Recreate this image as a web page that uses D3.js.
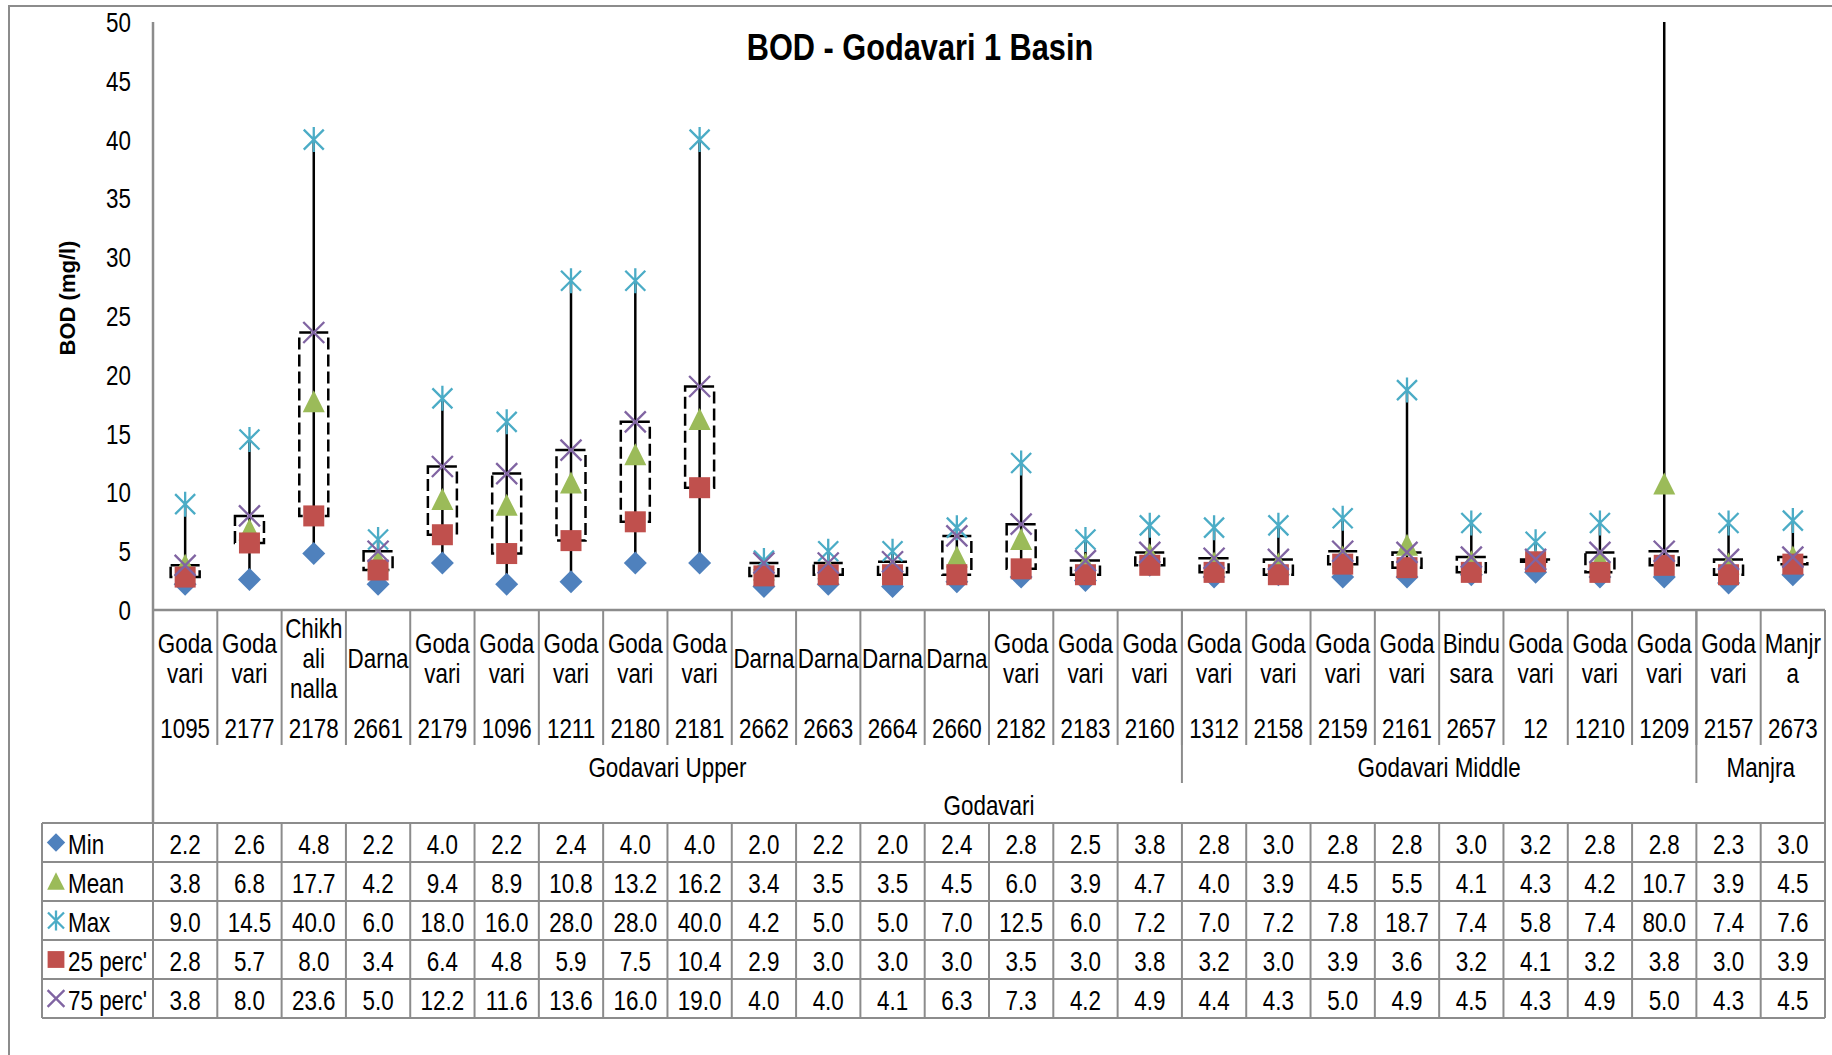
<!DOCTYPE html>
<html>
<head>
<meta charset="utf-8">
<script src="https://cdn.jsdelivr.net/npm/d3@7"></script>
<style>
  html, body { margin: 0; padding: 0; background: #fff; }
  svg { display: block; }
  text { font-family: "Liberation Sans", Arial, sans-serif; fill: #000; }
</style>
</head>
<body>
<svg id="chart" width="1832" height="1055"></svg>
<script>
// Stations (water-quality monitoring points) and their river names
const stations = ["1095","2177","2178","2661","2179","1096","1211","2180","2181","2662","2663","2664","2660",
                  "2182","2183","2160","1312","2158","2159","2161","2657","12","1210","1209","2157","2673"];
const rivers = [["Goda","vari"],["Goda","vari"],["Chikh","ali","nalla"],["Darna"],["Goda","vari"],["Goda","vari"],
                ["Goda","vari"],["Goda","vari"],["Goda","vari"],["Darna"],["Darna"],["Darna"],["Darna"],
                ["Goda","vari"],["Goda","vari"],["Goda","vari"],["Goda","vari"],["Goda","vari"],["Goda","vari"],
                ["Goda","vari"],["Bindu","sara"],["Goda","vari"],["Goda","vari"],["Goda","vari"],["Goda","vari"],["Manjr","a"]];
// Sub-basin groups: name and number of stations
const subBasins = [["Godavari Upper", 16], ["Godavari Middle", 8], ["Manjra", 2]];
const basinName = "Godavari";

// BOD statistics (mg/l)
const minVals  = [2.2,2.6,4.8,2.2,4.0,2.2,2.4,4.0,4.0,2.0,2.2,2.0,2.4,2.8,2.5,3.8,2.8,3.0,2.8,2.8,3.0,3.2,2.8,2.8,2.3,3.0];
const meanVals = [3.8,6.8,17.7,4.2,9.4,8.9,10.8,13.2,16.2,3.4,3.5,3.5,4.5,6.0,3.9,4.7,4.0,3.9,4.5,5.5,4.1,4.3,4.2,10.7,3.9,4.5];
const maxVals  = [9.0,14.5,40.0,6.0,18.0,16.0,28.0,28.0,40.0,4.2,5.0,5.0,7.0,12.5,6.0,7.2,7.0,7.2,7.8,18.7,7.4,5.8,7.4,80.0,7.4,7.6];
const p25Vals  = [2.8,5.7,8.0,3.4,6.4,4.8,5.9,7.5,10.4,2.9,3.0,3.0,3.0,3.5,3.0,3.8,3.2,3.0,3.9,3.6,3.2,4.1,3.2,3.8,3.0,3.9];
const p75Vals  = [3.8,8.0,23.6,5.0,12.2,11.6,13.6,16.0,19.0,4.0,4.0,4.1,6.3,7.3,4.2,4.9,4.4,4.3,5.0,4.9,4.5,4.3,4.9,5.0,4.3,4.5];

const seriesNames = ["Min", "Mean", "Max", "25 perc'", "75 perc'"];
const yTicks = [0,5,10,15,20,25,30,35,40,45,50];

const colors = { min: "#4F81BD", mean: "#9BBB59", max: "#4BACC6", p25: "#C0504D", p75: "#8064A2" };
const gridGray = "#8c8c8c";
const NARROW = 0.83;   // horizontal condensing for the narrow label face
const FS = 27;

const svg = d3.select("#chart");
const plotL = 153, plotR = 1825, plotT = 22, zeroY = 610;
const tableTop = 823, rowH = 39;

const x = d3.scaleBand().domain(d3.range(stations.length)).range([plotL, plotR]).padding(0);
const y = d3.scaleLinear().domain([0, 50]).range([zeroY, plotT]);
const cx = i => x(i) + x.bandwidth() / 2;

// condensed text helper
function ntext(parent, px, py, str, opts = {}) {
  return parent.append("text")
    .attr("transform", `translate(${px},${py}) scale(${opts.sx || NARROW},1)`)
    .attr("text-anchor", opts.anchor || "middle")
    .attr("font-size", opts.size || FS)
    .attr("font-weight", opts.weight || null)
    .text(str);
}

// outer chart frame
svg.append("rect").attr("x", 9).attr("y", 6).attr("width", 1840).attr("height", 1070)
  .attr("fill", "none").attr("stroke", gridGray).attr("stroke-width", 2);

// title
ntext(svg, 920, 60, "BOD - Godavari 1 Basin", { size: 37, weight: "bold" });

// y-axis title
svg.append("text").attr("transform", "translate(75,298) rotate(-90)")
  .attr("text-anchor", "middle").attr("font-size", 22).attr("font-weight", "bold").text("BOD (mg/l)");

// y axis tick labels
const yAxis = svg.append("g").attr("transform", `translate(${plotL},0)`)
  .call(d3.axisLeft(y).tickValues(yTicks).tickSize(0).tickPadding(0).tickFormat(d3.format("d")));
yAxis.select(".domain").remove();
yAxis.attr("font-family", null).attr("font-size", null);
yAxis.selectAll("text")
  .attr("x", null).attr("dy", null)
  .attr("transform", `translate(-22,9.5) scale(${NARROW},1)`)
  .attr("text-anchor", "end").attr("font-size", FS).attr("fill", "#000");

// axis lines
svg.append("line").attr("x1", plotL).attr("x2", plotL).attr("y1", plotT).attr("y2", tableTop)
  .attr("stroke", gridGray).attr("stroke-width", 2.5);
svg.append("line").attr("x1", plotL).attr("x2", plotR).attr("y1", zeroY).attr("y2", zeroY)
  .attr("stroke", gridGray).attr("stroke-width", 2.5);
svg.append("line").attr("x1", plotR).attr("x2", plotR).attr("y1", zeroY).attr("y2", tableTop)
  .attr("stroke", gridGray).attr("stroke-width", 2);

// category separators
const sepG = svg.append("g");
d3.range(1, stations.length).forEach(i => {
  sepG.append("line").attr("x1", x(i)).attr("x2", x(i)).attr("y1", zeroY).attr("y2", 745)
    .attr("stroke", gridGray).attr("stroke-width", 2);
});
// sub-basin separators and labels
let start = 0;
subBasins.forEach(([name, n], k) => {
  const end = start + n;
  const xs = x(start), xe = end < stations.length ? x(end) : plotR;
  if (k > 0) {
    svg.append("line").attr("x1", xs).attr("x2", xs).attr("y1", zeroY).attr("y2", 783)
      .attr("stroke", gridGray).attr("stroke-width", 2);
  }
  ntext(svg, (xs + xe) / 2, 777, name);
  start = end;
});
ntext(svg, (plotL + plotR) / 2, 815, basinName);

// river names and station numbers
const catG = svg.append("g");
rivers.forEach((lines, i) => {
  const mid = 668, lh = 30;
  const y0 = mid - (lines.length - 1) * lh / 2;
  lines.forEach((t, j) => ntext(catG, cx(i), y0 + j * lh, t));
  ntext(catG, cx(i), 738, stations[i]);
});

// plot marks, clipped to the plotting area
svg.append("defs").append("clipPath").attr("id", "plotClip")
  .append("rect").attr("x", plotL).attr("y", plotT).attr("width", plotR - plotL).attr("height", zeroY - plotT);
const plot = svg.append("g").attr("clip-path", "url(#plotClip)");

const idx = d3.range(stations.length);
// high-low lines
plot.selectAll(".hl").data(idx).join("line")
  .attr("x1", cx).attr("x2", cx)
  .attr("y1", i => y(minVals[i])).attr("y2", i => y(maxVals[i]))
  .attr("stroke", "#000").attr("stroke-width", 2.5);
// dashed inter-quartile boxes
const boxW = 29;
plot.selectAll(".box").data(idx).join("rect")
  .attr("x", i => cx(i) - boxW / 2).attr("width", boxW)
  .attr("y", i => y(p75Vals[i])).attr("height", i => y(p25Vals[i]) - y(p75Vals[i]))
  .attr("fill", "none").attr("stroke", "#000").attr("stroke-width", 2.5)
  .attr("stroke-dasharray", "12,5");

const diamondPath = (s) => `M0,${-s}L${s},0L0,${s}L${-s},0Z`;
const xPath = (s) => `M${-s},${-s}L${s},${s}M${-s},${s}L${s},${-s}`;
const starPath = (s) => `M${-s},${-s}L${s},${s}M${-s},${s}L${s},${-s}M0,${-s * 1.25}L0,${s * 1.25}`;

function drawMarker(g, kind, px, py, scale = 1) {
  if (kind === "min") {
    g.append("path").attr("d", diamondPath(11.5 * scale)).attr("transform", `translate(${px},${py})`)
      .attr("fill", colors.min);
  } else if (kind === "mean") {
    const s = 11 * scale;
    g.append("path").attr("d", `M0,${-s * 1.05}L${s},${s * 0.95}L${-s},${s * 0.95}Z`)
      .attr("transform", `translate(${px},${py})`).attr("fill", colors.mean);
  } else if (kind === "max") {
    g.append("path").attr("d", starPath(10 * scale)).attr("transform", `translate(${px},${py})`)
      .attr("stroke", colors.max).attr("stroke-width", 2.3).attr("fill", "none");
  } else if (kind === "p25") {
    const s = 10.5 * scale;
    g.append("rect").attr("x", px - s).attr("y", py - s).attr("width", 2 * s).attr("height", 2 * s)
      .attr("fill", colors.p25);
  } else if (kind === "p75") {
    g.append("path").attr("d", xPath(10.5 * scale)).attr("transform", `translate(${px},${py})`)
      .attr("stroke", colors.p75).attr("stroke-width", 2.3).attr("fill", "none");
  }
}

const series = [["min", minVals], ["mean", meanVals], ["max", maxVals], ["p25", p25Vals], ["p75", p75Vals]];
series.forEach(([kind, vals]) => {
  const g = plot.append("g");
  vals.forEach((v, i) => drawMarker(g, kind, cx(i), y(v)));
});

// data table
const tbl = svg.append("g");
const tableLeft = 42;
const nRows = series.length;
for (let r = 0; r <= nRows; r++) {
  tbl.append("line").attr("x1", tableLeft).attr("x2", plotR)
    .attr("y1", tableTop + r * rowH).attr("y2", tableTop + r * rowH)
    .attr("stroke", gridGray).attr("stroke-width", 2);
}
[tableLeft, plotL].concat(d3.range(1, stations.length).map(i => x(i))).concat([plotR]).forEach(xx => {
  tbl.append("line").attr("x1", xx).attr("x2", xx).attr("y1", tableTop).attr("y2", tableTop + nRows * rowH)
    .attr("stroke", gridGray).attr("stroke-width", 2);
});
series.forEach(([kind, vals], r) => {
  const rowY = tableTop + r * rowH;
  drawMarker(tbl, kind, 56, rowY + rowH / 2, 0.8);
  ntext(tbl, 68, rowY + 31, seriesNames[r], { anchor: "start" });
  vals.forEach((v, i) => ntext(tbl, cx(i), rowY + 31, d3.format(".1f")(v)));
});
</script>
</body>
</html>
